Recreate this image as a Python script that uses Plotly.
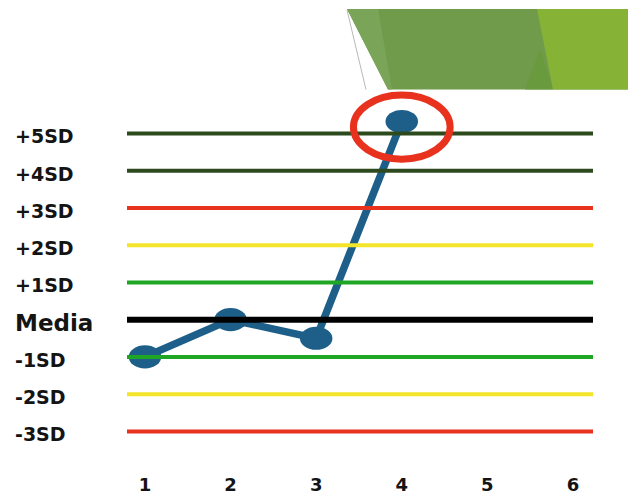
import plotly.graph_objects as go

# ---- data ----
runs = [1, 2, 3, 4]
values = [-1.0, 0.0, -0.5, 5.32]
x_ticks = [1, 2, 3, 4, 5, 6]
level_values = [5, 4, 3, 2, 1, 0, -1, -2, -3]
level_labels = ["+5SD", "+4SD", "+3SD", "+2SD", "+1SD", "Media", "-1SD", "-2SD", "-3SD"]
level_colors = ["#2c4a1d", "#2c4a1d", "#e8321e", "#f3e52a", "#1fa624",
                "#000000", "#1fa624", "#f3e52a", "#e8321e"]
level_widths = [4, 4, 4, 4, 4, 6, 4, 4, 4]

W, H = 633, 495
ML, MR, MT, MB = 127, 40, 0, 21
XR = [0.79, 6.234]
YR = [-4.09, 8.583]
BLUE = "#1e5f8a"

def px2paper(px, py):
    return (px - ML) / (W - ML - MR), (H - MB - py) / (H - MT - MB)

fig = go.Figure()

# data line
fig.add_trace(go.Scatter(x=runs, y=values, mode="lines",
                         line=dict(color=BLUE, width=7.5), hoverinfo="skip",
                         showlegend=False))

# control-limit lines (drawn above the data)
for v, c, w in zip(level_values, level_colors, level_widths):
    fig.add_trace(go.Scatter(x=XR, y=[v, v], mode="lines",
                             line=dict(color=c, width=w), hoverinfo="skip",
                             showlegend=False))

shapes = []
# ellipse markers
dx, dy = 0.19, 0.31
for xv, yv in zip(runs, values):
    shapes.append(dict(type="circle", xref="x", yref="y", layer="below",
                       x0=xv - dx, x1=xv + dx, y0=yv - dy, y1=yv + dy,
                       fillcolor=BLUE, line=dict(color=BLUE, width=0)))
# highlight outlier(s)
for xv, yv in zip(runs, values):
    if yv > 3:
        shapes.append(dict(type="circle", xref="x", yref="y", layer="above",
                           x0=xv - 0.565, x1=xv + 0.565,
                           y0=yv - 0.15 - 0.86, y1=yv - 0.15 + 0.86,
                           line=dict(color="#e8321e", width=7)))

# decorative banner, top right
def path(pts):
    s = ""
    for i, (a, b) in enumerate(pts):
        X, Y = px2paper(a, b)
        s += ("M" if i == 0 else "L") + f"{X:.5f},{Y:.5f} "
    return s + "Z"

shapes.append(dict(type="path", xref="paper", yref="paper", layer="above",
                   path=path([(347, 9), (628, 9), (628, 90), (388, 90)]),
                   fillcolor="#6f9b4b", line=dict(width=0)))
shapes.append(dict(type="path", xref="paper", yref="paper", layer="above",
                   path=path([(347, 9), (378, 9), (392, 90), (388, 90)]),
                   fillcolor="#7aa559", line=dict(width=0)))
shapes.append(dict(type="path", xref="paper", yref="paper", layer="above",
                   path=path([(540, 50), (553, 90), (525, 90)]),
                   fillcolor="#6a9a3e", line=dict(width=0)))
shapes.append(dict(type="path", xref="paper", yref="paper", layer="above",
                   path=path([(537, 9), (628, 9), (628, 90), (553, 90)]),
                   fillcolor="#86b336", line=dict(width=0)))
x0p, y0p = px2paper(347, 10)
x1p, y1p = px2paper(366, 90)
shapes.append(dict(type="line", xref="paper", yref="paper", layer="above",
                   x0=x0p, y0=y0p, x1=x1p, y1=y1p,
                   line=dict(color="#b8b8b8", width=1)))

# y labels (left aligned)
annotations = []
lx, _ = px2paper(13, 0)
for v, t in zip(level_values, level_labels):
    annotations.append(dict(x=lx, xref="paper", y=v, yref="y", text=f"<b>{t}</b>",
                            xanchor="left", yanchor="middle", showarrow=False,
                            yshift=-3,
                            font=dict(family="DejaVu Sans", size=23 if t == "Media" else 19,
                                      color="#141414")))

fig.update_layout(
    width=W, height=H,
    margin=dict(l=ML, r=MR, t=MT, b=MB),
    paper_bgcolor="white", plot_bgcolor="white",
    shapes=shapes, annotations=annotations,
    xaxis=dict(range=XR, tickvals=x_ticks, ticktext=[f"<b>{v}</b>" for v in x_ticks],
               showgrid=False, zeroline=False, showline=False, ticks="",
               tickfont=dict(family="DejaVu Sans", size=18, color="#141414")),
    yaxis=dict(range=YR, showgrid=False, zeroline=False, showline=False,
               showticklabels=False, ticks=""),
)

fig.write_html("out.html")
